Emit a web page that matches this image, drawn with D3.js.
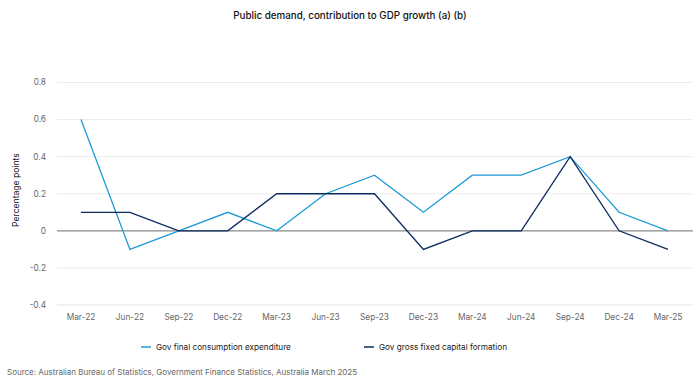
<!DOCTYPE html>
<html><head><meta charset="utf-8">
<script src="https://cdn.jsdelivr.net/npm/d3@7"></script>
<style>body{margin:0;background:#fff}svg{display:block;font-family:Inter,"Noto Sans",sans-serif}</style>
</head><body><svg id="c" width="700" height="389"></svg>
<script>
const categories = ["Mar-22","Jun-22","Sep-22","Dec-22","Mar-23","Jun-23","Sep-23","Dec-23","Mar-24","Jun-24","Sep-24","Dec-24","Mar-25"];
const consumption = [0.6,-0.1,0,0.1,0,0.2,0.3,0.1,0.3,0.3,0.4,0.1,0];
const capital = [0.1,0.1,0,0,0.2,0.2,0.2,-0.1,0,0,0.4,0,-0.1];
const yTicks = [-0.4,-0.2,0,0.2,0.4,0.6,0.8];
const seriesNames = ["Gov final consumption expenditure","Gov gross fixed capital formation"];
const colors = ["#1f9ad6","#0b2a5e"];

const svg = d3.select("#c");
const x = d3.scalePoint().domain(categories).range([81,668]);
const y = d3.scaleLinear().domain([-0.4,0.8]).range([305,82.5]);

svg.append("text").attr("x",350).attr("y",19).attr("text-anchor","middle")
  .attr("font-size",9.8).attr("font-weight",500).attr("fill","#111").text("Public demand, contribution to GDP growth (a) (b)");

const fmt = d => d===0 ? "0" : d3.format(".1f")(d).replace("\u2212","-");
svg.append("g").selectAll("line").data(yTicks).join("line")
  .attr("x1",57).attr("x2",693).attr("y1",d=>y(d)).attr("y2",d=>y(d))
  .attr("stroke",d=>d===0?"#8a8a8a":(d===-0.4?"#e4e2f0":"#ececec")).attr("stroke-width",d=>d===0?1.2:1);

svg.append("g").selectAll("text").data(yTicks).join("text")
  .attr("x",46).attr("y",d=>y(d)).attr("dy","0.35em").attr("text-anchor","end")
  .attr("font-size",8.3).attr("fill","#666").text(fmt);

svg.append("text").attr("transform","translate(19,190) rotate(-90)").attr("text-anchor","middle")
  .attr("font-size",8.6).attr("fill","#111").text("Percentage points");

svg.append("g").selectAll("text").data(categories).join("text")
  .attr("x",d=>x(d)).attr("y",320).attr("text-anchor","middle")
  .attr("font-size",8.3).attr("fill","#666").text(d=>d);

const line = d3.line().x((d,i)=>x(categories[i])).y(d=>y(d));
[consumption,capital].forEach((s,k)=>{
  svg.append("path").datum(s).attr("d",line).attr("fill","none")
    .attr("stroke",colors[k]).attr("stroke-width",1.3).attr("stroke-linejoin","miter");
});

const legX = [141,364];
seriesNames.forEach((n,k)=>{
  svg.append("line").attr("x1",legX[k]).attr("x2",legX[k]+10).attr("y1",347).attr("y2",347)
    .attr("stroke",colors[k]).attr("stroke-width",1.5);
  svg.append("text").attr("x",legX[k]+15).attr("y",347).attr("dy","0.35em")
    .attr("font-size",8.2).attr("fill","#222").text(n);
});

svg.append("text").attr("x",7).attr("y",375).attr("font-size",8).attr("fill","#666")
  .text("Source: Australian Bureau of Statistics, Government Finance Statistics, Australia March 2025");
</script></body></html>
